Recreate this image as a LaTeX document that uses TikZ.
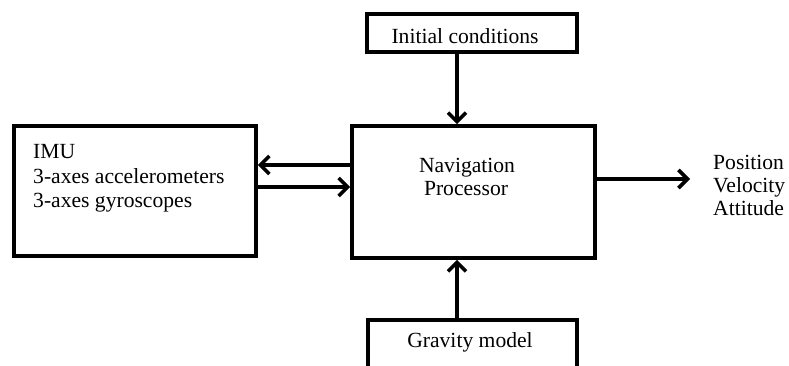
\documentclass[tikz,border=0pt]{standalone}
\usepackage{fontspec}
\setmainfont{Liberation Serif}
\usetikzlibrary{arrows.meta}
\begin{document}
\begin{tikzpicture}[x=1pt,y=-1pt,
  blk/.style={draw=black, line width=3.6pt, inner sep=0pt},
  lbl/.style={inner sep=0pt, anchor=base, font=\fontsize{21.6}{24}\selectfont},
  lbll/.style={lbl, anchor=base west},
  arr/.style={line width=3.6pt, -{Straight Barb[length=9pt, width=18pt, line width=3.6pt]}}]
  \useasboundingbox (0,0) rectangle (789,365);
  \clip (0,0) rectangle (789,365);
  % boxes
  \node[blk, minimum width=242pt, minimum height=130pt] (imu) at (135,191) {};
  \node[blk, minimum width=243pt, minimum height=132pt] (nav) at (473.5,192) {};
  \node[blk, minimum width=210pt, minimum height=38pt] (ini) at (472,33) {};
  \node[blk, minimum width=209pt, minimum height=60pt] (grav) at (472.5,350) {};
  % labels
  \node[lbl] (tini) at (465,43) {Initial conditions};
  \node[lbl] (tgrav) at (470,347) {Gravity model};
  \node[lbl] (tnav1) at (467,172) {Navigation};
  \node[lbl] (tnav2) at (466,195) {Processor};
  \node[lbll] (timu1) at (33,158) {IMU};
  \node[lbll] (timu2) at (33,183) {3-axes accelerometers};
  \node[lbll] (timu3) at (33,207) {3-axes gyroscopes};
  \node[lbll] (tout1) at (713,169) {Position};
  \node[lbll] (tout2) at (713,192) {Velocity};
  \node[lbll] (tout3) at (713,215) {Attitude};
  % connectors
  \coordinate (vx) at (457,0);
  \coordinate (up) at (0,165);
  \coordinate (dn) at (0,187);
  \coordinate (outy) at (0,179);
  \coordinate (outend) at (690,179);
  \draw[arr] (ini.south -| vx) -- (nav.north -| vx);
  \draw[arr] (grav.north -| vx) -- (nav.south -| vx);
  \draw[arr] (nav.west |- up) -- (imu.east |- up);
  \draw[arr] (imu.east |- dn) -- (nav.west |- dn);
  \draw[arr] (nav.east |- outy) -- (outend);
\end{tikzpicture}
\end{document}
